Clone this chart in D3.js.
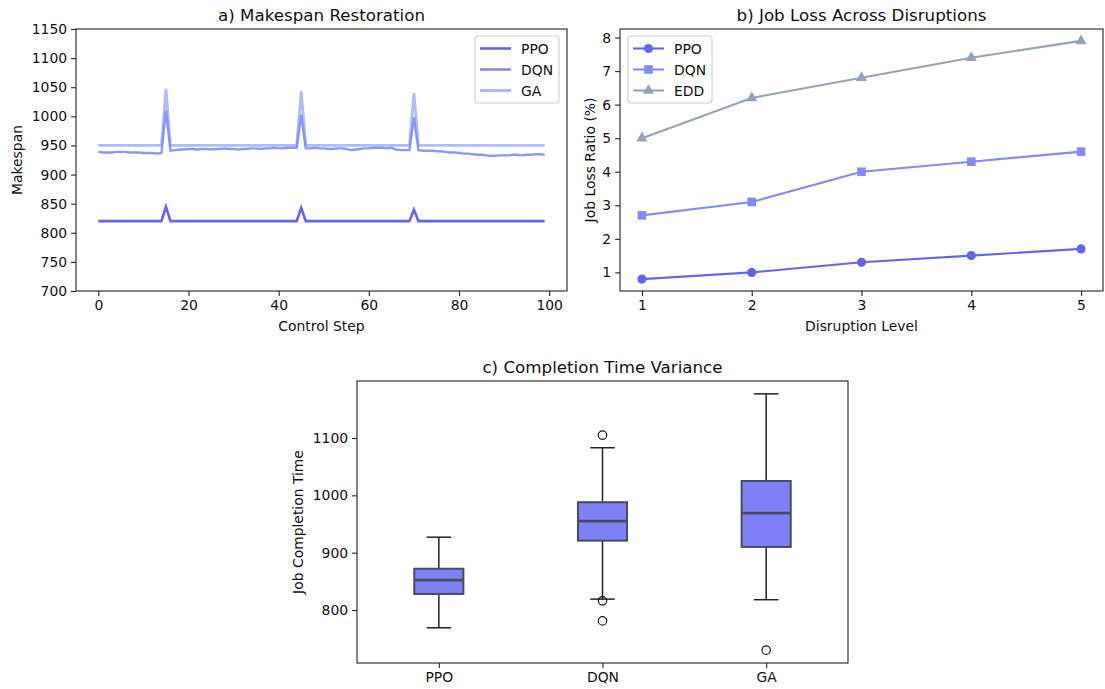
<!doctype html>
<html lang="en">
<head>
<meta charset="utf-8">
<title>Scheduling comparison</title>
<script src="https://d3js.org/d3.v7.min.js"></script>
<style>
  body { margin: 0; background: #fff; }
  svg text { font-family: "DejaVu Sans", sans-serif; fill: #111; }
</style>
</head>
<body>
<svg id="fig" width="1105" height="689"></svg>
<script>
// ---- data ----
var steps = d3.range(0, 100);
var spikeSteps = [15, 45, 70];
var ppoBase = 820, ppoSpikes = [845, 843, 840];
var gaBase = 950, gaSpikes = [1047, 1043, 1040];
var dqnMakespan = [
  939, 938, 938, 938, 939, 939, 939, 938, 938, 938, 937, 937, 937, 936, 937,
  1010,
  941, 942, 943, 943, 944, 944, 943, 944, 944, 943, 944, 944, 945, 944, 944,
  943, 944, 944, 945, 945, 944, 945, 945, 946, 945, 945, 946, 946, 946,
  1003,
  945, 945, 946, 945, 945, 944, 944, 945, 945, 944, 942, 943, 944, 945, 945,
  946, 946, 946, 945, 946, 943, 942, 942, 942,
  998,
  942, 941, 941, 941, 940, 940, 939, 938, 938, 937, 936, 936, 935, 934, 934,
  933, 932, 932, 933, 933, 933, 934, 934, 933, 934, 934, 935, 935, 934
];
var ppoMakespan = steps.map(function (s) {
  var k = spikeSteps.indexOf(s); return k < 0 ? ppoBase : ppoSpikes[k];
});
var gaMakespan = steps.map(function (s) {
  var k = spikeSteps.indexOf(s); return k < 0 ? gaBase : gaSpikes[k];
});

var levels = [1, 2, 3, 4, 5];
var ppoLoss = [0.8, 1.0, 1.3, 1.5, 1.7];
var dqnLoss = [2.7, 3.1, 4.0, 4.3, 4.6];
var eddLoss = [5.0, 6.2, 6.8, 7.4, 7.9];

var boxNames = ["PPO", "DQN", "GA"];
var whiskerLow = [769, 819, 818];
var q1 = [828, 921, 910];
var medians = [852, 955, 969];
var q3 = [872, 988, 1025];
var whiskerHigh = [927, 1083, 1177];
var outliers = [[], [1105, 816, 781], [730]];

var cPPO = "#6366f1", cDQN = "#818cf8", cGA = "#a5b4fc", cEDD = "#94a3b8";

var svg = d3.select("#fig");
var fs = 13.9;
var intFmt = d3.format("d");

function frame(g, w, h) {
  g.append("rect").attr("width", w).attr("height", h)
    .attr("fill", "none").attr("stroke", "#222").attr("stroke-width", 1.1);
}
function styleAxis(sel) {
  sel.selectAll("path").remove();
  sel.selectAll("line").attr("stroke", "#222").attr("stroke-width", 1.1);
  sel.selectAll("text").style("font-size", fs + "px").attr("fill", "#111");
}
function legend(g, x, y, w, items) {
  var lg = g.append("g").attr("transform", "translate(" + x + "," + y + ")");
  lg.append("rect").attr("width", w).attr("height", 67).attr("rx", 3)
    .attr("fill", "#fff").attr("fill-opacity", 0.8)
    .attr("stroke", "#d0d0d0").attr("stroke-width", 1.1);
  items.forEach(function (it, i) {
    var yy = 12.5 + i * 21;
    lg.append("line").attr("x1", 5).attr("x2", 36).attr("y1", yy).attr("y2", yy)
      .attr("stroke", it.color).attr("stroke-width", it.lw).attr("stroke-opacity", it.op || 1);
    if (it.marker) drawMarker(lg, it.marker, 20.5, yy, it.color);
    lg.append("text").attr("x", 46).attr("y", yy).attr("dy", "0.36em")
      .style("font-size", fs + "px").text(it.name);
  });
}
function drawMarker(g, type, x, y, color) {
  if (type === "circle") {
    g.append("circle").attr("cx", x).attr("cy", y).attr("r", 4.6).attr("fill", color);
  } else if (type === "square") {
    g.append("rect").attr("x", x - 4.3).attr("y", y - 4.3).attr("width", 8.6).attr("height", 8.6).attr("fill", color);
  } else {
    g.append("path").attr("transform", "translate(" + x + "," + y + ")")
      .attr("d", d3.symbol().type(d3.symbolTriangle).size(55)).attr("fill", color);
  }
}

// ---- a) Makespan Restoration ----
(function () {
  var L = 76, T = 29, W = 491, H = 262;
  var g = svg.append("g").attr("transform", "translate(" + L + "," + T + ")");
  var x = d3.scaleLinear().domain([-4.95, 103.95]).range([0, W]);
  var y = d3.scaleLinear().domain([700, 1150]).range([H, 0]);

  g.append("g").attr("transform", "translate(0," + H + ")")
    .call(d3.axisBottom(x).tickValues([0, 20, 40, 60, 80, 100]).tickFormat(intFmt).tickSize(4.9).tickPadding(4))
    .call(styleAxis);
  g.append("g")
    .call(d3.axisLeft(y).tickValues(d3.range(700, 1151, 50)).tickFormat(intFmt).tickSize(4.9).tickPadding(4))
    .call(styleAxis);

  var line = d3.line().x(function (d, i) { return x(steps[i]); }).y(function (d) { return y(d); });
  g.append("path").datum(gaMakespan).attr("d", line).attr("fill", "none")
    .attr("stroke", cGA).attr("stroke-width", 2.8).attr("stroke-opacity", 0.9);
  g.append("path").datum(dqnMakespan).attr("d", line).attr("fill", "none")
    .attr("stroke", cDQN).attr("stroke-width", 2.4).attr("stroke-opacity", 0.9);
  g.append("path").datum(ppoMakespan).attr("d", line).attr("fill", "none")
    .attr("stroke", cPPO).attr("stroke-width", 2.6);

  frame(g, W, H);
  legend(g, 399, 7, 84, [
    { name: "PPO", color: cPPO, lw: 2.6 },
    { name: "DQN", color: cDQN, lw: 2.6 },
    { name: "GA", color: cGA, lw: 2.8 }
  ]);

  g.append("text").attr("x", W / 2).attr("y", -8).attr("text-anchor", "middle")
    .style("font-size", "16.7px").text("a) Makespan Restoration");
  g.append("text").attr("x", W / 2).attr("y", H + 40).attr("text-anchor", "middle")
    .style("font-size", fs + "px").text("Control Step");
  g.append("text").attr("transform", "translate(" + (17 - L) + "," + (H / 2) + ") rotate(-90)")
    .attr("text-anchor", "middle").attr("dy", "0.35em")
    .style("font-size", fs + "px").text("Makespan");
})();

// ---- b) Job Loss Across Disruptions ----
(function () {
  var L = 620, T = 29, W = 483, H = 262;
  var g = svg.append("g").attr("transform", "translate(" + L + "," + T + ")");
  var x = d3.scaleLinear().domain([0.8, 5.2]).range([0, W]);
  var y = d3.scaleLinear().domain([0.445, 8.255]).range([H, 0]);

  g.append("g").attr("transform", "translate(0," + H + ")")
    .call(d3.axisBottom(x).tickValues(levels).tickFormat(intFmt).tickSize(4.9).tickPadding(4))
    .call(styleAxis);
  g.append("g")
    .call(d3.axisLeft(y).tickValues([1, 2, 3, 4, 5, 6, 7, 8]).tickFormat(intFmt).tickSize(4.9).tickPadding(4))
    .call(styleAxis);

  var series = [
    { name: "PPO", vals: ppoLoss, color: cPPO, marker: "circle" },
    { name: "DQN", vals: dqnLoss, color: cDQN, marker: "square" },
    { name: "EDD", vals: eddLoss, color: cEDD, marker: "triangle" }
  ];
  var line = d3.line().x(function (d, i) { return x(levels[i]); }).y(function (d) { return y(d); });
  series.forEach(function (s) {
    g.append("path").datum(s.vals).attr("d", line).attr("fill", "none")
      .attr("stroke", s.color).attr("stroke-width", 2.1);
    s.vals.forEach(function (v, i) { drawMarker(g, s.marker, x(levels[i]), y(v), s.color); });
  });

  frame(g, W, H);
  legend(g, 8, 7, 84, series.map(function (s) {
    return { name: s.name, color: s.color, lw: 2.1, marker: s.marker };
  }));

  g.append("text").attr("x", W / 2).attr("y", -8).attr("text-anchor", "middle")
    .style("font-size", "16.7px").text("b) Job Loss Across Disruptions");
  g.append("text").attr("x", W / 2).attr("y", H + 40).attr("text-anchor", "middle")
    .style("font-size", fs + "px").text("Disruption Level");
  g.append("text").attr("transform", "translate(" + (590 - L) + "," + (H / 2) + ") rotate(-90)")
    .attr("text-anchor", "middle").attr("dy", "0.35em")
    .style("font-size", fs + "px").text("Job Loss Ratio (%)");
})();

// ---- c) Completion Time Variance ----
(function () {
  var L = 357, T = 381, W = 491, H = 282;
  var g = svg.append("g").attr("transform", "translate(" + L + "," + T + ")");
  var x = d3.scaleLinear().domain([0.5, 3.5]).range([0, W]);
  var y = d3.scaleLinear().domain([707.6, 1199.4]).range([H, 0]);
  var bw = x(1.3) - x(1);

  g.append("g").attr("transform", "translate(0," + H + ")")
    .call(d3.axisBottom(x).tickValues([1, 2, 3]).tickFormat(function (d) { return boxNames[d - 1]; })
      .tickSize(4.9).tickPadding(4))
    .call(styleAxis);
  g.append("g")
    .call(d3.axisLeft(y).tickValues([800, 900, 1000, 1100]).tickFormat(intFmt).tickSize(4.9).tickPadding(4))
    .call(styleAxis);

  boxNames.forEach(function (name, i) {
    var cx = x(i + 1);
    var bg = g.append("g");
    bg.append("line").attr("x1", cx).attr("x2", cx).attr("y1", y(whiskerLow[i])).attr("y2", y(q1[i]))
      .attr("stroke", "#222").attr("stroke-width", 1.5);
    bg.append("line").attr("x1", cx).attr("x2", cx).attr("y1", y(q3[i])).attr("y2", y(whiskerHigh[i]))
      .attr("stroke", "#222").attr("stroke-width", 1.5);
    [whiskerLow[i], whiskerHigh[i]].forEach(function (v) {
      bg.append("line").attr("x1", cx - bw / 4).attr("x2", cx + bw / 4).attr("y1", y(v)).attr("y2", y(v))
        .attr("stroke", "#222").attr("stroke-width", 1.5);
    });
    bg.append("rect").attr("x", cx - bw / 2).attr("width", bw)
      .attr("y", y(q3[i])).attr("height", y(q1[i]) - y(q3[i]))
      .attr("fill", "#7f80f5").attr("stroke", "#474c5e").attr("stroke-width", 2);
    bg.append("line").attr("x1", cx - bw / 2).attr("x2", cx + bw / 2)
      .attr("y1", y(medians[i])).attr("y2", y(medians[i]))
      .attr("stroke", "#474c5e").attr("stroke-width", 2.8);
    outliers[i].forEach(function (v) {
      bg.append("circle").attr("cx", cx).attr("cy", y(v)).attr("r", 4.2)
        .attr("fill", "none").attr("stroke", "#111").attr("stroke-width", 1.2);
    });
  });

  frame(g, W, H);

  g.append("text").attr("x", W / 2).attr("y", -8).attr("text-anchor", "middle")
    .style("font-size", "16.7px").text("c) Completion Time Variance");
  g.append("text").attr("transform", "translate(" + (298 - L) + "," + (H / 2) + ") rotate(-90)")
    .attr("text-anchor", "middle").attr("dy", "0.35em")
    .style("font-size", fs + "px").text("Job Completion Time");
})();
</script>
</body>
</html>
